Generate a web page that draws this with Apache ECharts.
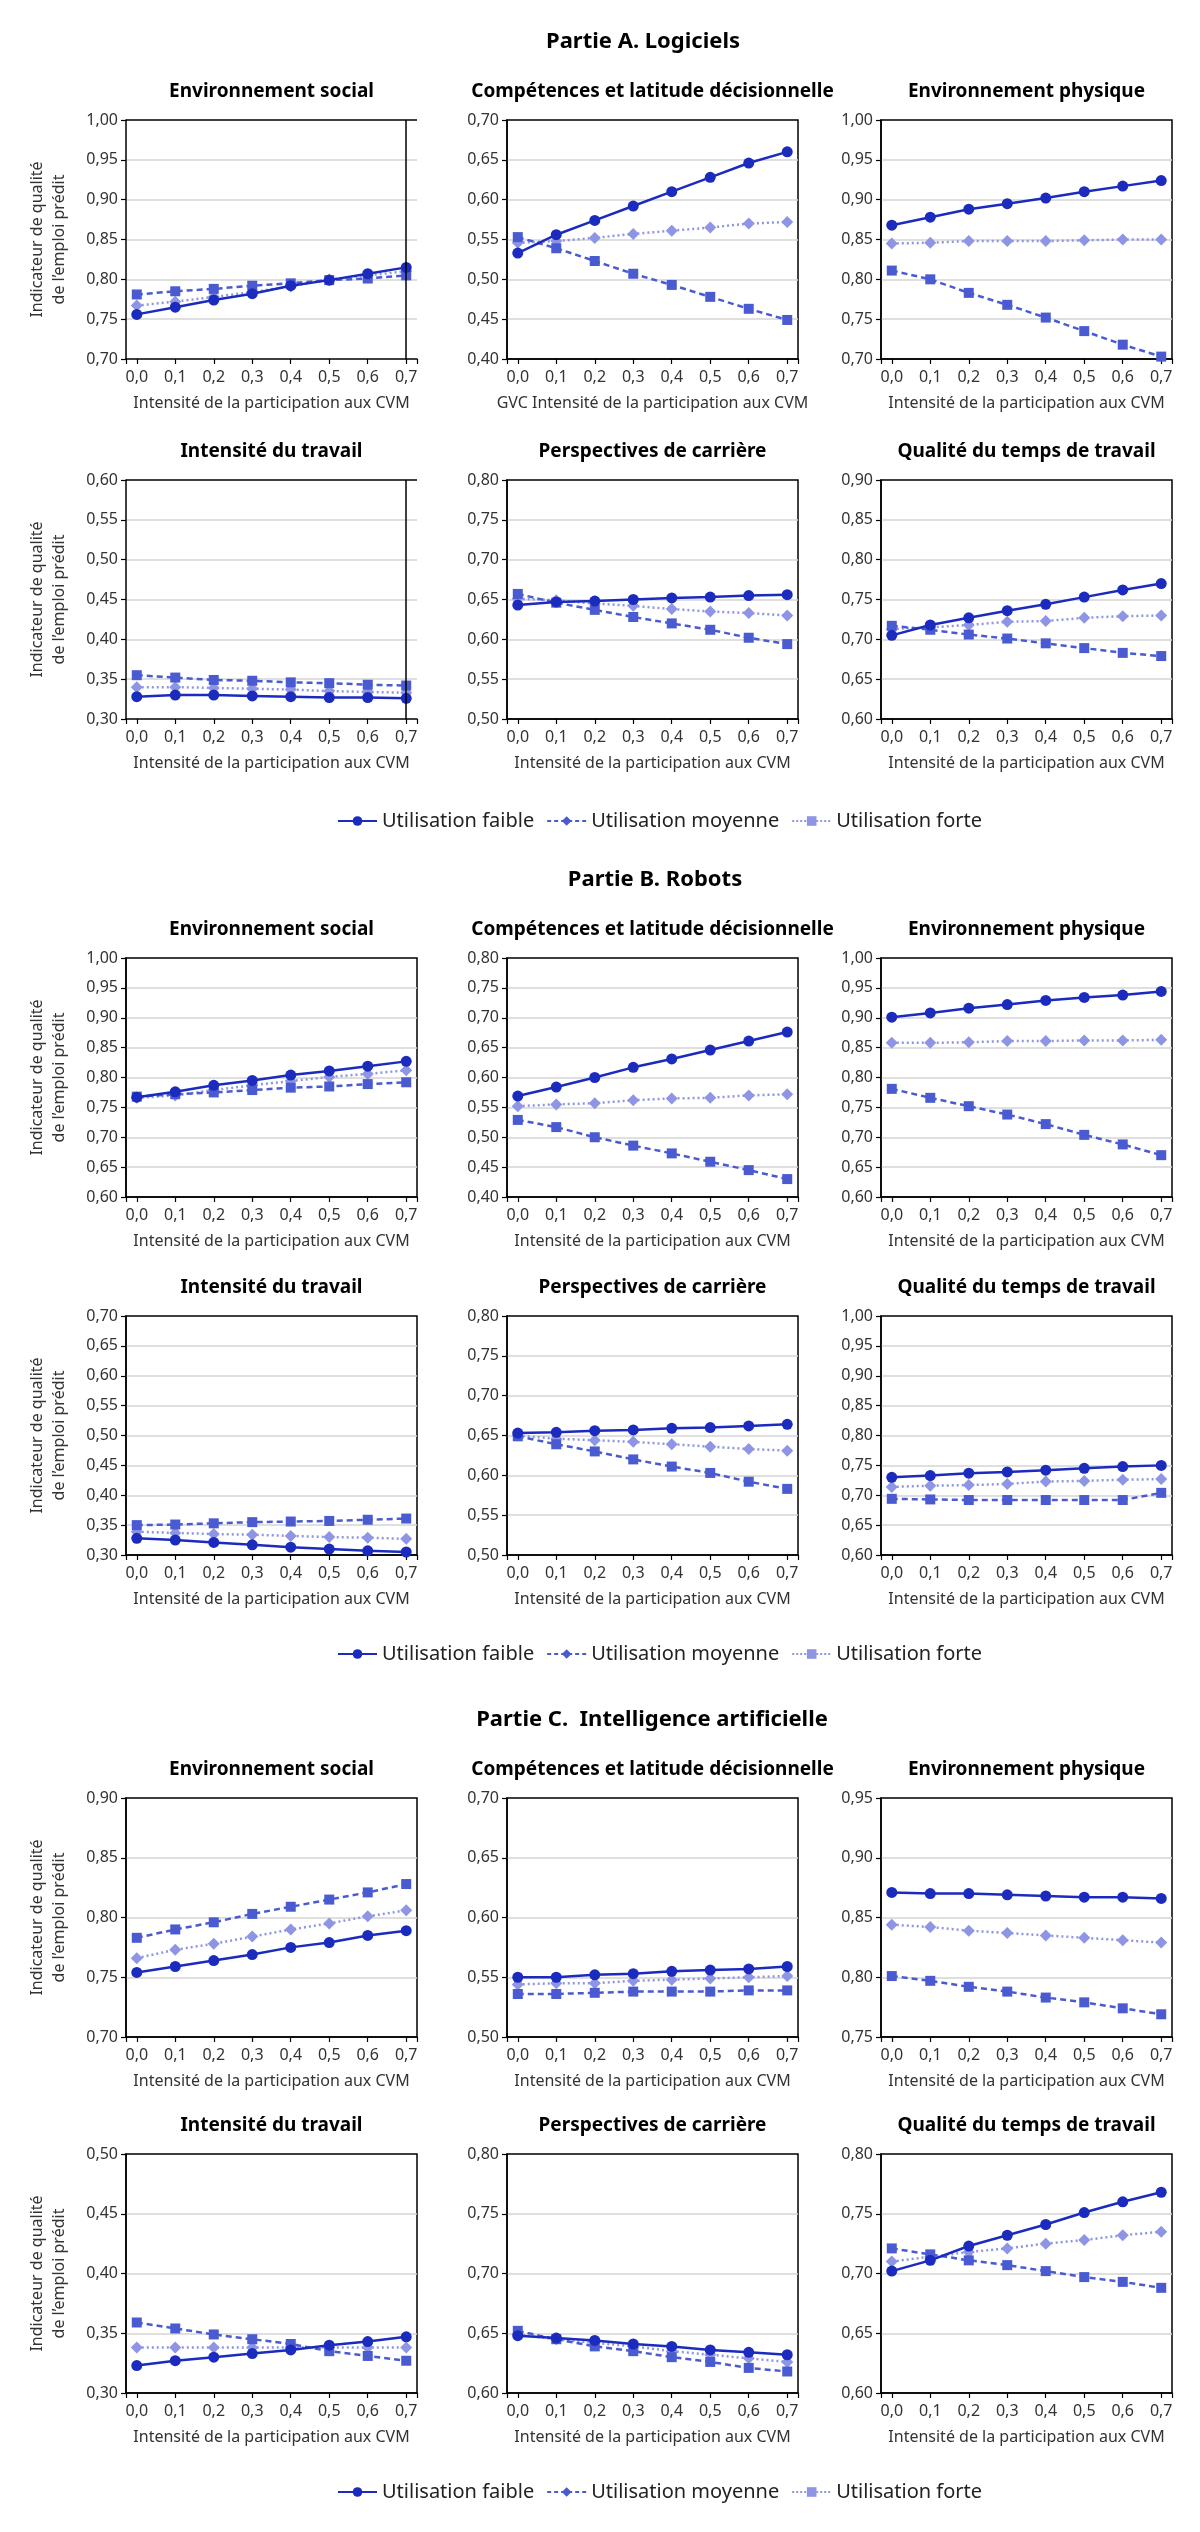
<!DOCTYPE html>
<html>
<head>
<meta charset="utf-8">
<script src="https://cdn.jsdelivr.net/npm/echarts@6/dist/echarts.min.js"></script>
<style>
html,body{margin:0;padding:0;background:#fff;}
#chart{width:1200px;height:2532px;}
</style>
</head>
<body>
<div id="chart"></div>
<script>
// ---------- data ----------
const xTicks = [0, 0.1, 0.2, 0.3, 0.4, 0.5, 0.6, 0.7];
const xTickLabels = ['0,0', '0,1', '0,2', '0,3', '0,4', '0,5', '0,6', '0,7'];
const seriesNames = ['Utilisation faible', 'Utilisation moyenne', 'Utilisation forte'];
const partTitles = ['Partie A. Logiciels', 'Partie B. Robots', 'Partie C.  Intelligence artificielle'];
const panelTitles = ['Environnement social', 'Compétences et latitude décisionnelle', 'Environnement physique',
  'Intensité du travail', 'Perspectives de carrière', 'Qualité du temps de travail'];
const xAxisNameDefault = 'Intensité de la participation aux CVM';
const xAxisNameA2 = 'GVC Intensité de la participation aux CVM';
const yAxisName = 'Indicateur de qualité\nde l’emploi prédit';

// y-axis ranges per panel
const A_yMin = [0.70, 0.40, 0.70, 0.30, 0.50, 0.60];
const A_yMax = [1.00, 0.70, 1.00, 0.60, 0.80, 0.90];
const B_yMin = [0.60, 0.40, 0.60, 0.30, 0.50, 0.60];
const B_yMax = [1.00, 0.80, 1.00, 0.70, 0.80, 1.00];
const C_yMin = [0.70, 0.50, 0.75, 0.30, 0.60, 0.60];
const C_yMax = [0.90, 0.70, 0.95, 0.50, 0.80, 0.80];

// Partie A. Logiciels
const A_faible = [
  [0.756, 0.765, 0.774, 0.782, 0.792, 0.799, 0.807, 0.815],
  [0.533, 0.556, 0.574, 0.592, 0.610, 0.628, 0.646, 0.660],
  [0.868, 0.878, 0.888, 0.895, 0.902, 0.910, 0.917, 0.924],
  [0.328, 0.330, 0.330, 0.329, 0.328, 0.327, 0.327, 0.326],
  [0.643, 0.647, 0.648, 0.650, 0.652, 0.653, 0.655, 0.656],
  [0.705, 0.718, 0.727, 0.736, 0.744, 0.753, 0.762, 0.770]
];
const A_moyenne = [
  [0.781, 0.785, 0.788, 0.792, 0.795, 0.799, 0.801, 0.805],
  [0.553, 0.539, 0.523, 0.507, 0.493, 0.478, 0.463, 0.449],
  [0.811, 0.800, 0.783, 0.768, 0.752, 0.735, 0.718, 0.703],
  [0.355, 0.352, 0.349, 0.348, 0.346, 0.345, 0.343, 0.342],
  [0.657, 0.646, 0.637, 0.628, 0.620, 0.612, 0.602, 0.594],
  [0.717, 0.712, 0.706, 0.701, 0.695, 0.689, 0.683, 0.679]
];
const A_forte = [
  [0.767, 0.772, 0.778, 0.784, 0.791, 0.800, 0.805, 0.810],
  [0.546, 0.548, 0.552, 0.557, 0.561, 0.565, 0.570, 0.572],
  [0.845, 0.846, 0.848, 0.848, 0.848, 0.849, 0.850, 0.850],
  [0.340, 0.340, 0.339, 0.338, 0.337, 0.335, 0.334, 0.333],
  [0.651, 0.649, 0.645, 0.642, 0.638, 0.635, 0.633, 0.630],
  [0.713, 0.715, 0.718, 0.722, 0.723, 0.727, 0.729, 0.730]
];
// Partie B. Robots
const B_faible = [
  [0.767, 0.776, 0.787, 0.795, 0.804, 0.811, 0.819, 0.827],
  [0.569, 0.584, 0.600, 0.617, 0.631, 0.646, 0.661, 0.676],
  [0.901, 0.908, 0.916, 0.922, 0.929, 0.934, 0.938, 0.944],
  [0.328, 0.325, 0.321, 0.317, 0.313, 0.310, 0.307, 0.305],
  [0.653, 0.654, 0.656, 0.657, 0.659, 0.660, 0.662, 0.664],
  [0.730, 0.733, 0.737, 0.739, 0.742, 0.745, 0.748, 0.750]
];
const B_moyenne = [
  [0.768, 0.772, 0.775, 0.779, 0.783, 0.785, 0.789, 0.792],
  [0.529, 0.517, 0.500, 0.486, 0.473, 0.459, 0.445, 0.430],
  [0.781, 0.766, 0.752, 0.738, 0.722, 0.704, 0.688, 0.670],
  [0.350, 0.351, 0.353, 0.355, 0.356, 0.357, 0.359, 0.361],
  [0.649, 0.639, 0.630, 0.620, 0.611, 0.603, 0.592, 0.583],
  [0.694, 0.693, 0.692, 0.692, 0.692, 0.692, 0.692, 0.704]
];
const B_forte = [
  [0.766, 0.770, 0.779, 0.787, 0.794, 0.801, 0.806, 0.812],
  [0.552, 0.555, 0.557, 0.562, 0.565, 0.566, 0.570, 0.572],
  [0.858, 0.858, 0.859, 0.861, 0.861, 0.862, 0.862, 0.863],
  [0.339, 0.337, 0.335, 0.334, 0.332, 0.330, 0.329, 0.327],
  [0.650, 0.646, 0.644, 0.642, 0.639, 0.636, 0.633, 0.631],
  [0.714, 0.716, 0.717, 0.719, 0.723, 0.724, 0.726, 0.727]
];
// Partie C. Intelligence artificielle
const C_faible = [
  [0.754, 0.759, 0.764, 0.769, 0.775, 0.779, 0.785, 0.789],
  [0.550, 0.550, 0.552, 0.553, 0.555, 0.556, 0.557, 0.559],
  [0.871, 0.870, 0.870, 0.869, 0.868, 0.867, 0.867, 0.866],
  [0.323, 0.327, 0.330, 0.333, 0.336, 0.340, 0.343, 0.347],
  [0.648, 0.646, 0.644, 0.641, 0.639, 0.636, 0.634, 0.632],
  [0.702, 0.711, 0.723, 0.732, 0.741, 0.751, 0.760, 0.768]
];
const C_moyenne = [
  [0.783, 0.790, 0.796, 0.803, 0.809, 0.815, 0.821, 0.828],
  [0.536, 0.536, 0.537, 0.538, 0.538, 0.538, 0.539, 0.539],
  [0.801, 0.797, 0.792, 0.788, 0.783, 0.779, 0.774, 0.769],
  [0.359, 0.354, 0.349, 0.345, 0.341, 0.335, 0.331, 0.327],
  [0.652, 0.645, 0.639, 0.635, 0.630, 0.626, 0.621, 0.618],
  [0.721, 0.716, 0.711, 0.707, 0.702, 0.697, 0.693, 0.688]
];
const C_forte = [
  [0.766, 0.773, 0.778, 0.784, 0.790, 0.795, 0.801, 0.806],
  [0.544, 0.545, 0.545, 0.547, 0.548, 0.549, 0.550, 0.551],
  [0.844, 0.842, 0.839, 0.837, 0.835, 0.833, 0.831, 0.829],
  [0.338, 0.338, 0.338, 0.338, 0.338, 0.338, 0.338, 0.338],
  [0.649, 0.645, 0.642, 0.639, 0.635, 0.632, 0.629, 0.626],
  [0.710, 0.714, 0.718, 0.721, 0.725, 0.728, 0.732, 0.735]
];

// ---------- layout / style ----------
const FONT = '"Noto Sans", "Open Sans", sans-serif';
const COL_FAIBLE = '#1b2bbd';
const COL_MOY = '#4a5bd1';
const COL_FORTE = '#8e95e4';
const colLeft = [126, 507, 881];
const plotW = 291;
const plotH = 239;
const rowTop = [[120, 480], [958, 1316], [1798, 2154]];
const partTitleY = [42, 880, 1720];
const partTitleX = [643, 655, 652];
const legendY = [824, 1657, 2495];
const xPadMin = -0.028, xPadMax = 0.728;

const parts = [
  {min: A_yMin, max: A_yMax, f: A_faible, m: A_moyenne, s: A_forte},
  {min: B_yMin, max: B_yMax, f: B_faible, m: B_moyenne, s: B_forte},
  {min: C_yMin, max: C_yMax, f: C_faible, m: C_moyenne, s: C_forte}
];

const grids = [], xAxes = [], yAxes = [], graphics = [];
// legend-only series (carry the legend icons)
const series = [
  {name: seriesNames[0], type: 'line', xAxisIndex: 0, yAxisIndex: 0, data: [], symbol: 'circle', symbolSize: 9,
   itemStyle: {color: COL_FAIBLE}, lineStyle: {color: COL_FAIBLE, width: 3.5}},
  {name: seriesNames[1], type: 'line', xAxisIndex: 0, yAxisIndex: 0, data: [], symbol: 'diamond', symbolSize: 11,
   itemStyle: {color: COL_MOY}, lineStyle: {color: COL_MOY, width: 3, type: [4, 3]}},
  {name: seriesNames[2], type: 'line', xAxisIndex: 0, yAxisIndex: 0, data: [], symbol: 'rect', symbolSize: 9,
   itemStyle: {color: COL_FORTE}, lineStyle: {color: COL_FORTE, width: 3, type: [2, 2]}}
];

const fmt2 = v => v.toFixed(2).replace('.', ',');
const toPairs = vals => xTicks.map((x, i) => [x, vals[i]]);

parts.forEach((p, pi) => {
  graphics.push({type: 'text', x: partTitleX[pi], y: partTitleY[pi], silent: true,
    style: {text: partTitles[pi], align: 'center', verticalAlign: 'middle', fontSize: 22, fontWeight: 'bold', fontFamily: FONT, fill: '#000'}});
  for (let k = 0; k < 6; k++) {
    const r = Math.floor(k / 3), c = k % 3;
    const g = pi * 6 + k;
    const left = colLeft[c], top = rowTop[pi][r];
    const openRight = (pi === 0 && c === 0); // Partie A first column: frame closes at 0,7
    grids.push({left: left, top: top, width: plotW, height: plotH, show: true,
      borderColor: openRight ? 'transparent' : '#000', borderWidth: openRight ? 0 : 1.5,
      backgroundColor: 'transparent', containLabel: false});
    graphics.push({type: 'text', x: left + plotW / 2, y: top - 28, silent: true,
      style: {text: panelTitles[k], align: 'center', verticalAlign: 'middle', fontSize: 19, fontWeight: 'bold', fontFamily: FONT, fill: '#000'}});
    xAxes.push({
      gridIndex: g, type: 'value', min: xPadMin, max: xPadMax,
      name: (pi === 0 && k === 1) ? xAxisNameA2 : xAxisNameDefault,
      nameLocation: 'middle', nameGap: 36,
      nameTextStyle: {fontSize: 16, color: '#333', fontFamily: FONT},
      axisLine: {show: true, onZero: false, lineStyle: {color: '#000', width: 1.5}},
      axisTick: {show: true, length: 5, lineStyle: {color: '#000', width: 1.2},
        customValues: [xPadMin].concat(xTicks, [xPadMax])},
      axisLabel: {show: true, customValues: xTicks, margin: 10, fontSize: 16, color: '#333', fontFamily: FONT,
        formatter: v => xTickLabels[Math.round(v * 10)]},
      splitLine: {show: false}
    });
    yAxes.push({
      gridIndex: g, type: 'value', min: p.min[k], max: p.max[k], interval: 0.05,
      name: c === 0 ? yAxisName : '',
      nameLocation: 'middle', nameGap: 56,
      nameTextStyle: {fontSize: 16, color: '#333', fontFamily: FONT, lineHeight: 22},
      axisLine: {show: true, onZero: false, lineStyle: {color: '#000', width: 1.5}},
      axisTick: {show: true, length: 5, lineStyle: {color: '#000', width: 1.2}},
      axisLabel: {margin: 8, fontSize: 16, color: '#333', fontFamily: FONT, formatter: fmt2},
      splitLine: {show: true, showMinLine: false, showMaxLine: false, lineStyle: {color: '#d4d4d4', width: 1.5}}
    });
    series.push({
      name: 'forte ' + g, type: 'line', xAxisIndex: g, yAxisIndex: g, data: toPairs(p.s[k]),
      symbol: 'diamond', symbolSize: 12, z: 2,
      itemStyle: {color: COL_FORTE}, lineStyle: {color: COL_FORTE, width: 2.5, type: [2, 3]}
    });
    series.push({
      name: 'moyenne ' + g, type: 'line', xAxisIndex: g, yAxisIndex: g, data: toPairs(p.m[k]),
      symbol: 'rect', symbolSize: 10, z: 3,
      itemStyle: {color: COL_MOY}, lineStyle: {color: COL_MOY, width: 2.5, type: [6, 4]}
    });
    const sf = {
      name: 'faible ' + g, type: 'line', xAxisIndex: g, yAxisIndex: g, data: toPairs(p.f[k]),
      symbol: 'circle', symbolSize: 11, z: 4,
      itemStyle: {color: COL_FAIBLE}, lineStyle: {color: COL_FAIBLE, width: 2.5}
    };
    if (openRight) {
      sf.markLine = {silent: true, symbol: 'none', label: {show: false},
        lineStyle: {color: '#000', type: 'solid', width: 1.5},
        data: [{xAxis: 0.7}, {yAxis: p.max[k]}]};
    }
    series.push(sf);
  }
});

const legends = legendY.map(y => ({
  data: seriesNames, left: 337, top: y - 13, padding: 0, itemWidth: 39, itemHeight: 12, itemGap: 12,
  selectedMode: false, textStyle: {fontSize: 20, color: '#222', fontFamily: FONT}
}));

const chart = echarts.init(document.getElementById('chart'), null, {renderer: 'canvas'});
chart.setOption({
  animation: false,
  backgroundColor: '#fff',
  grid: grids,
  xAxis: xAxes,
  yAxis: yAxes,
  legend: legends,
  graphic: graphics,
  series: series
});
</script>
</body>
</html>
